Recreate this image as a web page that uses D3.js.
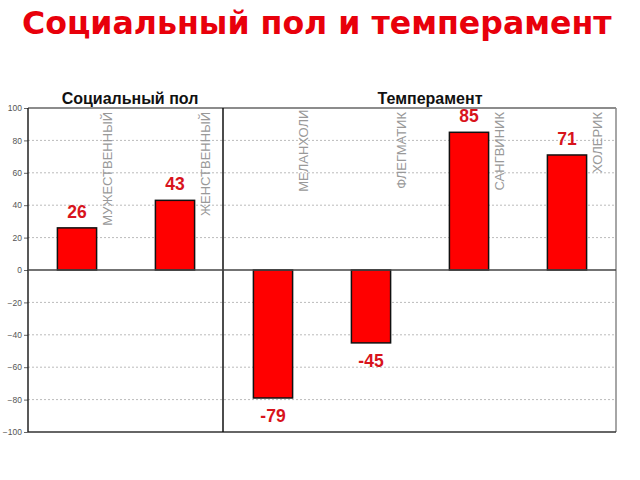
<!DOCTYPE html>
<html><head><meta charset="utf-8">
<script src="https://cdn.jsdelivr.net/npm/d3@7"></script>
<style>body{margin:0;background:#fff}svg{display:block}</style>
</head><body>
<script>
const title = "Социальный пол и темперамент";
const groups = ["Социальный пол", "Темперамент"];
const groupOf = [0, 0, 1, 1, 1, 1];
const categories = ["МУЖЕСТВЕННЫЙ", "ЖЕНСТВЕННЫЙ", "МЕЛАНХОЛИК", "ФЛЕГМАТИК", "САНГВИНИК", "ХОЛЕРИК"];
const values = [26, 43, -79, -45, 85, 71];
const yTicks = [100, 80, 60, 40, 20, 0, -20, -40, -60, -80, -100];

const W = 640, H = 480;
const m = {left: 28, right: 616, top: 108, bottom: 432};
const svg = d3.select("body").append("svg").attr("width", W).attr("height", H);

const x = d3.scaleBand().domain(categories).range([m.left, m.right]).paddingInner(0.6).paddingOuter(0.3);
const y = d3.scaleLinear().domain([-100, 100]).range([m.bottom, m.top]);

// title
const t = svg.append("text").attr("x", 22).attr("y", 34)
  .attr("font-family", "DejaVu Sans, Verdana, sans-serif").attr("font-weight", "bold")
  .attr("font-size", 28).attr("fill", "#e8000b").text(title);
const tw = t.node().getComputedTextLength();
t.attr("font-size", 28 * 590 / tw);

// gridlines
svg.append("g").selectAll("line").data(yTicks.filter(d => d !== 0 && d !== 100 && d !== -100)).join("line")
  .attr("x1", m.left).attr("x2", m.right).attr("y1", d => y(d)).attr("y2", d => y(d))
  .attr("stroke", "#bbb").attr("stroke-dasharray", "2,2").attr("stroke-width", 1);

// y axis
const ax = svg.append("g").attr("transform", `translate(${m.left},0)`)
  .call(d3.axisLeft(y).tickValues(yTicks).tickSize(4).tickPadding(2));
ax.select(".domain").remove();
ax.selectAll(".tick line").attr("stroke", "#666");
ax.selectAll(".tick text").attr("fill", "#555").attr("font-family", "Arial, Liberation Sans, sans-serif").attr("font-size", 8.5);

// frame
svg.append("line").attr("x1", m.left).attr("x2", m.right).attr("y1", m.top).attr("y2", m.top).attr("stroke", "#666").attr("stroke-width", 1.5);
svg.append("line").attr("x1", m.right).attr("x2", m.right).attr("y1", m.top).attr("y2", m.bottom).attr("stroke", "#888").attr("stroke-width", 1.5);
svg.append("line").attr("x1", m.left).attr("x2", m.right).attr("y1", m.bottom).attr("y2", m.bottom).attr("stroke", "#333").attr("stroke-width", 1.5);
svg.append("line").attr("x1", m.left).attr("x2", m.left).attr("y1", m.top).attr("y2", m.bottom).attr("stroke", "#222").attr("stroke-width", 1.5);

// divider between groups
const divX = (x(categories[1]) + x.bandwidth() + x(categories[2])) / 2 - 1;
svg.append("line").attr("x1", divX).attr("x2", divX).attr("y1", m.top).attr("y2", m.bottom).attr("stroke", "#111").attr("stroke-width", 1.5);

// group headers
const headerShift = [4, 10];
const centers = groups.map((g, gi) => {
  const cs = categories.filter((c, i) => groupOf[i] === gi);
  return (x(cs[0]) + x(cs[cs.length - 1]) + x.bandwidth()) / 2;
});
svg.append("g").selectAll("text").data(groups).join("text")
  .attr("x", (d, i) => centers[i] + headerShift[i]).attr("y", 104).attr("text-anchor", "middle")
  .attr("font-family", "Arial, Liberation Sans, sans-serif").attr("font-weight", "bold").attr("font-size", 16)
  .attr("fill", "#111").text(d => d);

// bars
svg.append("g").selectAll("rect").data(values).join("rect")
  .attr("x", (d, i) => x(categories[i])).attr("width", x.bandwidth())
  .attr("y", d => y(Math.max(0, d))).attr("height", d => Math.abs(y(d) - y(0)))
  .attr("fill", "#ff0000").attr("stroke", "#111").attr("stroke-width", 1.5);

// zero line
svg.append("line").attr("x1", m.left).attr("x2", m.right).attr("y1", y(0)).attr("y2", y(0)).attr("stroke", "#444").attr("stroke-width", 1.5);

// value labels
svg.append("g").selectAll("text").data(values).join("text")
  .attr("x", (d, i) => x(categories[i]) + x.bandwidth() / 2)
  .attr("y", d => d >= 0 ? y(d) - 10 : y(d) + 24)
  .attr("text-anchor", "middle").attr("font-family", "Arial, Liberation Sans, sans-serif")
  .attr("font-weight", "bold").attr("font-size", 17.5).attr("fill", "#d8141c").text(d => d);

// category labels (rotated)
svg.append("defs").append("clipPath").attr("id", "plotclip").append("rect")
  .attr("x", m.left).attr("y", m.top + 1).attr("width", m.right - m.left).attr("height", m.bottom - m.top);
svg.append("g").attr("clip-path", "url(#plotclip)").selectAll("text").data(categories).join("text")
  .attr("transform", (d, i) => `translate(${x(categories[i]) + x.bandwidth() / 2 + 35},${i === 2 ? 102 : 112}) rotate(-90)`)
  .attr("text-anchor", "end").attr("font-family", "Arial, Liberation Sans, sans-serif")
  .attr("font-size", 13).attr("fill", "#999").text(d => d);
</script>
</body></html>
